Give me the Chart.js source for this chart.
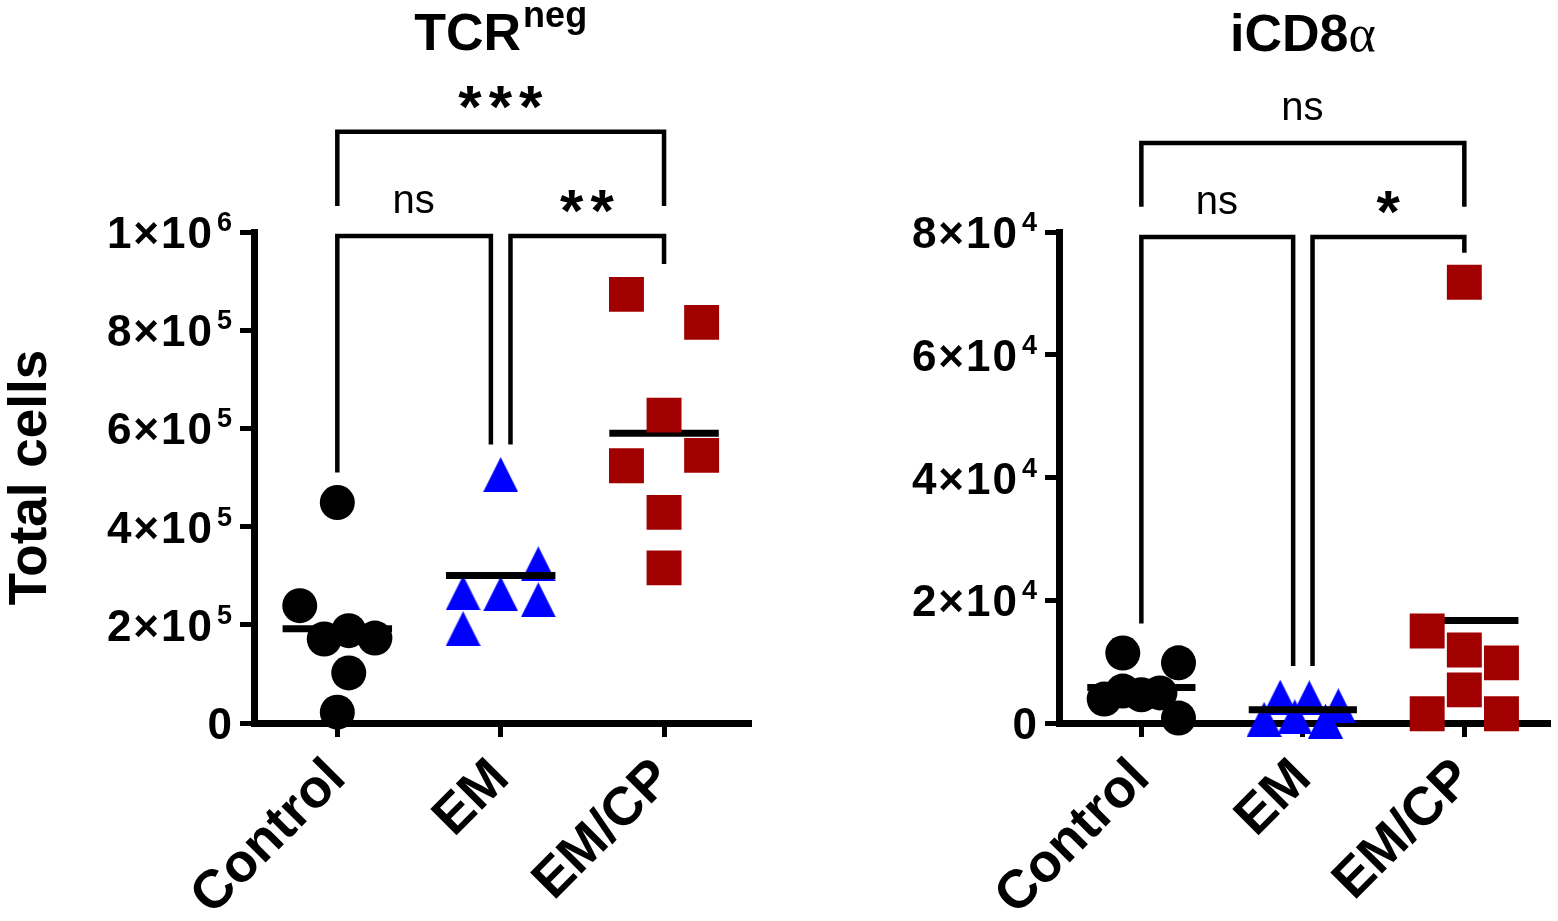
<!DOCTYPE html>
<html>
<head>
<meta charset="utf-8">
<script src="https://cdn.jsdelivr.net/npm/chart.js@4.4.1/dist/chart.umd.min.js"></script>
<style>
  html, body { margin: 0; padding: 0; background: #fff; overflow: hidden; }
  #wrap { position: relative; width: 1558px; height: 921px; overflow: hidden; }
  .panel { position: absolute; top: 0; height: 921px; }
  #leftPanel { left: 0; width: 790px; }
  #rightPanel { left: 790px; width: 783px; }
</style>
</head>
<body>
<div id="wrap">
  <div class="panel" id="leftPanel"><canvas id="tcrChart" width="790" height="921"></canvas></div>
  <div class="panel" id="rightPanel"><canvas id="cd8Chart" width="783" height="921"></canvas></div>
</div>
<script>
var groups = ['Control', 'EM', 'EM/CP'];

// TCRneg, total cells per animal
var tcrControl = [449000, 239000, 171000, 188000, 173000, 102000, 22000];
var tcrEM = [506000, 324000, 265000, 263000, 251000, 192000];
var tcrEMCP = [873000, 816000, 627000, 524000, 545000, 429000, 316000];

// iCD8a, total cells per animal
var cd8Control = [11400, 9800, 3900, 5200, 4600, 4900, 800];
var cd8EM = [4200, 4100, 2800, 600, 1000, 300];
var cd8EMCP = [71800, 15000, 11900, 9800, 5400, 1500, 1500];

// sideways spread of the points in a column, in column widths
var tcrControlJitter = [0, -0.23, -0.08, 0.07, 0.23, 0.07, 0];
var tcrEMJitter = [0, 0.23, -0.23, 0, 0.23, -0.23];
var tcrEMCPJitter = [-0.23, 0.23, 0, -0.23, 0.23, 0, 0];
var cd8ControlJitter = [-0.115, 0.23, -0.23, -0.115, 0, 0.115, 0.23];
var cd8EMJitter = [-0.14, 0.04, 0.22, -0.24, -0.05, 0.14];
var cd8EMCPJitter = [0, -0.23, 0, 0.23, 0, -0.23, 0.23];

var tcrTicks = [0, 200000, 400000, 600000, 800000, 1000000];
var cd8Ticks = [0, 20000, 40000, 60000, 80000];

// significance brackets (group indexes, bar height, leg ends, label)
var tcrStats = [
    { from: 0, to: 2, y: 1204000, leftEnd: 1053000, rightEnd: 1053000, label: '***' },
    { from: 0, to: 1, y: 992000, leftEnd: 510000, rightEnd: 567000, label: 'ns' },
    { from: 1, to: 2, y: 992000, leftEnd: 567000, rightEnd: 935000, label: '**' }
];
var cd8Stats = [
    { from: 0, to: 2, y: 94500, leftEnd: 84100, rightEnd: 84100, label: 'ns' },
    { from: 0, to: 1, y: 79200, leftEnd: 16200, rightEnd: 9300, label: 'ns' },
    { from: 1, to: 2, y: 79200, leftEnd: 9300, rightEnd: 76600, label: '*' }
];

var FONT = '"Liberation Sans", Arial, Helvetica, sans-serif';
Chart.defaults.font.family = FONT;
Chart.defaults.color = '#000';

var colors = ['#000000', '#0000ff', '#a00000'];
var meanHalf = 0.335;
var legGap = 0.06;

function makeTriangle(size, color) {
    var c = document.createElement('canvas');
    c.width = size;
    c.height = size;
    var g = c.getContext('2d');
    g.fillStyle = color;
    g.beginPath();
    g.moveTo(size / 2, 0);
    g.lineTo(size, size);
    g.lineTo(0, size);
    g.closePath();
    g.fill();
    return c;
}
var pointStyles = ['circle', makeTriangle(35, colors[1]), 'rect'];
var pointRadii = [17.5, 17.5, 24.7];

// "8×10" and "5" for 800000
function sciParts(v) {
    if (v === 0) return ['0', ''];
    var e = Math.floor(Math.log10(v) + 1e-9);
    var m = Math.round(v / Math.pow(10, e));
    return [m + '\u00d710', String(e)];
}

function mean(arr) {
    var s = 0;
    arr.forEach(function(v) { s += v; });
    return s / arr.length;
}

// y tick labels with raised exponents, brackets with their labels, panel title
var annotations = {
    id: 'annotations',
    afterDraw: function(chart) {
        var o = chart.options.plugins.annotations;
        var ctx = chart.ctx;
        var xs = chart.scales.x;
        var ys = chart.scales.y;
        ctx.save();
        ctx.strokeStyle = '#000';
        ctx.fillStyle = '#000';

        // y tick labels
        var right = chart.chartArea.left - 22;
        ys.ticks.forEach(function(t) {
            var y = ys.getPixelForValue(t.value);
            var p = sciParts(t.value);
            ctx.textBaseline = 'alphabetic';
            ctx.textAlign = 'right';
            var x = right;
            if (p[1]) {
                ctx.font = 'bold 27px ' + FONT;
                ctx.letterSpacing = '0px';
                ctx.fillText(p[1], x, y - 1);
                x -= ctx.measureText(p[1]).width + 5;
            }
            ctx.font = 'bold 44px ' + FONT;
            ctx.letterSpacing = '2px';
            ctx.fillText(p[0], x + 2, y + 16);
        });
        ctx.letterSpacing = '0px';

        ctx.lineWidth = 4.5;
        ctx.lineCap = 'butt';
        ctx.lineJoin = 'miter';
        o.stats.forEach(function(s) {
            var x1 = xs.getPixelForValue(s.from + 1 + (s.from === 1 ? legGap : 0));
            var x2 = xs.getPixelForValue(s.to + 1 - (s.to === 1 ? legGap : 0));
            var y = ys.getPixelForValue(s.y);
            ctx.beginPath();
            ctx.moveTo(x1, ys.getPixelForValue(s.leftEnd));
            ctx.lineTo(x1, y);
            ctx.lineTo(x2, y);
            ctx.lineTo(x2, ys.getPixelForValue(s.rightEnd));
            ctx.stroke();

            var stars = s.label.indexOf('*') >= 0;
            ctx.font = stars ? 'bold 60px ' + FONT : '40px ' + FONT;
            ctx.letterSpacing = stars ? '7px' : '0px';
            ctx.textAlign = 'left';
            ctx.textBaseline = 'alphabetic';
            var m = ctx.measureText(s.label);
            var cx = (x1 + x2) / 2;
            var cy = y - 34;
            var tx = cx - (m.actualBoundingBoxRight - m.actualBoundingBoxLeft) / 2;
            var ty = cy + (m.actualBoundingBoxAscent - m.actualBoundingBoxDescent) / 2;
            ctx.fillText(s.label, tx, ty);
        });
        ctx.letterSpacing = '0px';

        // title, centred on the middle column
        var parts = o.title;
        var total = 0;
        parts.forEach(function(p) {
            ctx.font = p.font;
            p.w = ctx.measureText(p.text).width + (p.gap || 0);
            total += p.w;
        });
        var x = xs.getPixelForValue(2) - total / 2;
        ctx.textAlign = 'left';
        ctx.textBaseline = 'alphabetic';
        parts.forEach(function(p) {
            ctx.font = p.font;
            ctx.fillText(p.text, x + (p.gap || 0), p.base);
            x += p.w;
        });
        ctx.restore();
    }
};

function buildPanel(canvasId, cols, jitters, ticks, stats, title, yTitle, axisWidth, rightPad) {
    var datasets = [];
    cols.forEach(function(vals, g) {
        datasets.push({
            label: groups[g],
            data: vals.map(function(v, i) { return { x: g + 1 + jitters[g][i], y: v }; }),
            pointStyle: pointStyles[g],
            pointRadius: pointRadii[g],
            pointHoverRadius: pointRadii[g],
            backgroundColor: colors[g],
            borderColor: colors[g],
            borderWidth: 0,
            showLine: false,
            clip: false,
            order: g === 1 ? 3 : 1
        });
        var m = mean(vals);
        datasets.push({
            type: 'line',
            label: groups[g] + ' mean',
            data: [{ x: g + 1 - meanHalf, y: m }, { x: g + 1 + meanHalf, y: m }],
            borderColor: '#000',
            borderWidth: 7,
            pointRadius: 0,
            showLine: true,
            clip: false,
            order: 2
        });
    });

    var gridOpts = { drawOnChartArea: false, drawTicks: true, tickLength: 14, lineWidth: 5, color: '#000' };
    var borderOpts = { color: '#000', width: 7 };

    return new Chart(document.getElementById(canvasId), {
        type: 'scatter',
        data: { datasets: datasets },
        options: {
            responsive: false,
            animation: false,
            events: [],
            layout: { padding: { top: 232, left: 0, right: rightPad, bottom: 0 } },
            plugins: {
                legend: { display: false },
                tooltip: { enabled: false },
                annotations: { stats: stats, title: title }
            },
            scales: {
                x: {
                    type: 'linear',
                    min: 0.49,
                    max: 3.52,
                    afterBuildTicks: function(s) {
                        s.ticks = groups.map(function(g, i) { return { value: i + 1 }; });
                    },
                    afterFit: function(s) {
                        s.height = 198;
                        s.paddingLeft = 0;
                        s.paddingRight = 0;
                    },
                    grid: gridOpts,
                    border: borderOpts,
                    ticks: {
                        autoSkip: false,
                        minRotation: 45,
                        maxRotation: 45,
                        padding: 10,
                        color: '#000',
                        font: { size: 54, weight: 'bold' },
                        callback: function(v) { return groups[v - 1]; }
                    }
                },
                y: {
                    type: 'linear',
                    min: 0,
                    max: ticks[ticks.length - 1],
                    afterBuildTicks: function(s) {
                        s.ticks = ticks.map(function(v) { return { value: v }; });
                    },
                    afterFit: function(s) { s.width = axisWidth; },
                    grid: gridOpts,
                    border: borderOpts,
                    ticks: { display: false },
                    title: {
                        display: !!yTitle,
                        text: yTitle || '',
                        color: '#000',
                        padding: 0,
                        font: { size: 53, weight: 'bold' }
                    }
                }
            }
        },
        plugins: [annotations]
    });
}

buildPanel('tcrChart', [tcrControl, tcrEM, tcrEMCP],
    [tcrControlJitter, tcrEMJitter, tcrEMCPJitter], tcrTicks, tcrStats,
    [{ text: 'TCR', font: 'bold 52px ' + FONT, base: 50 },
     { text: 'neg', font: 'bold 36px ' + FONT, base: 27, gap: 2 }],
    'Total cells', 254, 41);

buildPanel('cd8Chart', [cd8Control, cd8EM, cd8EMCP],
    [cd8ControlJitter, cd8EMJitter, cd8EMCPJitter], cd8Ticks, cd8Stats,
    [{ text: 'iCD8', font: 'bold 52px ' + FONT, base: 51 },
     { text: '\u03b1', font: '52px "Liberation Serif", "DejaVu Serif", serif', base: 51 }],
    null, 269, 8);
</script>
</body>
</html>
